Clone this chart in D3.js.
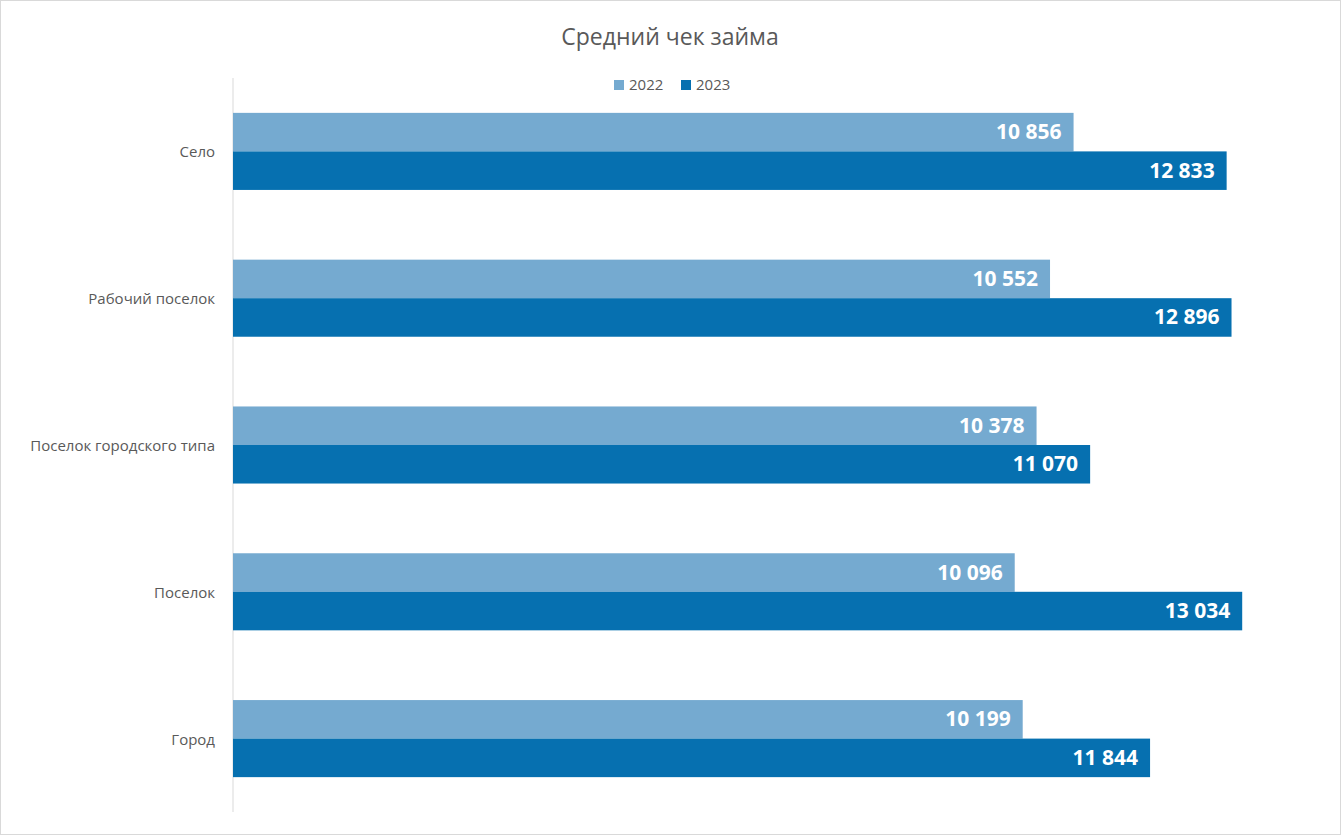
<!DOCTYPE html>
<html><head><meta charset="utf-8">
<script src="https://cdn.jsdelivr.net/npm/d3@7.9.0/dist/d3.min.js"></script>
<style>body{margin:0;background:#fff;font-family:"Open Sans",Calibri,sans-serif;}</style>
</head><body><svg width="1341" height="835"></svg>
<script>
const categories = ['Село', 'Рабочий поселок', 'Поселок городского типа', 'Поселок', 'Город'];
const seriesNames = ['2022', '2023'];
const values2022 = [10856, 10552, 10378, 10096, 10199];
const values2023 = [12833, 12896, 11070, 13034, 11844];
const colors = ['#75AAD0', '#0670B0'];

const svg = d3.select('svg');
svg.append('rect').attr('x', 0.5).attr('y', 0.5).attr('width', 1340).attr('height', 834)
  .attr('fill', '#fff').attr('stroke', '#d9d9d9');

svg.append('text').attr('x', 670).attr('y', 45).attr('text-anchor', 'middle')
  .attr('font-size', 23).attr('fill', '#595959').text('Средний чек займа');

// легенда
const legend = svg.append('g');
[[614, 0], [681, 1]].forEach(([x, i]) => {
  legend.append('rect').attr('x', x).attr('y', 80).attr('width', 10).attr('height', 10).attr('fill', colors[i]);
  legend.append('text').attr('x', x + 15).attr('y', 90).attr('font-size', 15).attr('fill', '#595959').text(seriesNames[i]);
});

const x = d3.scaleLinear().domain([0, 14000]).range([233, 1317]);
const y = d3.scaleBand().domain(categories).range([78, 812]).paddingInner(0.475).paddingOuter(0.2375);
const sub = d3.scaleBand().domain([0, 1]).range([0, y.bandwidth()]);

svg.append('line').attr('x1', 233).attr('x2', 233).attr('y1', 78).attr('y2', 812).attr('stroke', '#d9d9d9');

categories.forEach((c, ci) => {
  [values2022, values2023].forEach((vals, si) => {
    const v = vals[ci];
    const y0 = y(c) + sub(si);
    svg.append('rect').attr('x', x(0)).attr('y', y0).attr('width', x(v) - x(0))
      .attr('height', sub.bandwidth()).attr('fill', colors[si]);
    svg.append('text').attr('x', x(v) - 12).attr('y', y0 + sub.bandwidth() / 2 + 7)
      .attr('text-anchor', 'end').attr('font-size', 21).attr('font-weight', 'bold').attr('fill', '#fff')
      .text(d3.format(',')(v).replace(',', ' '));
  });
  svg.append('text').attr('x', 215).attr('y', y(c) + y.bandwidth() / 2 + 6)
    .attr('text-anchor', 'end').attr('font-size', 15).attr('fill', '#595959').text(c);
});
</script></body></html>
